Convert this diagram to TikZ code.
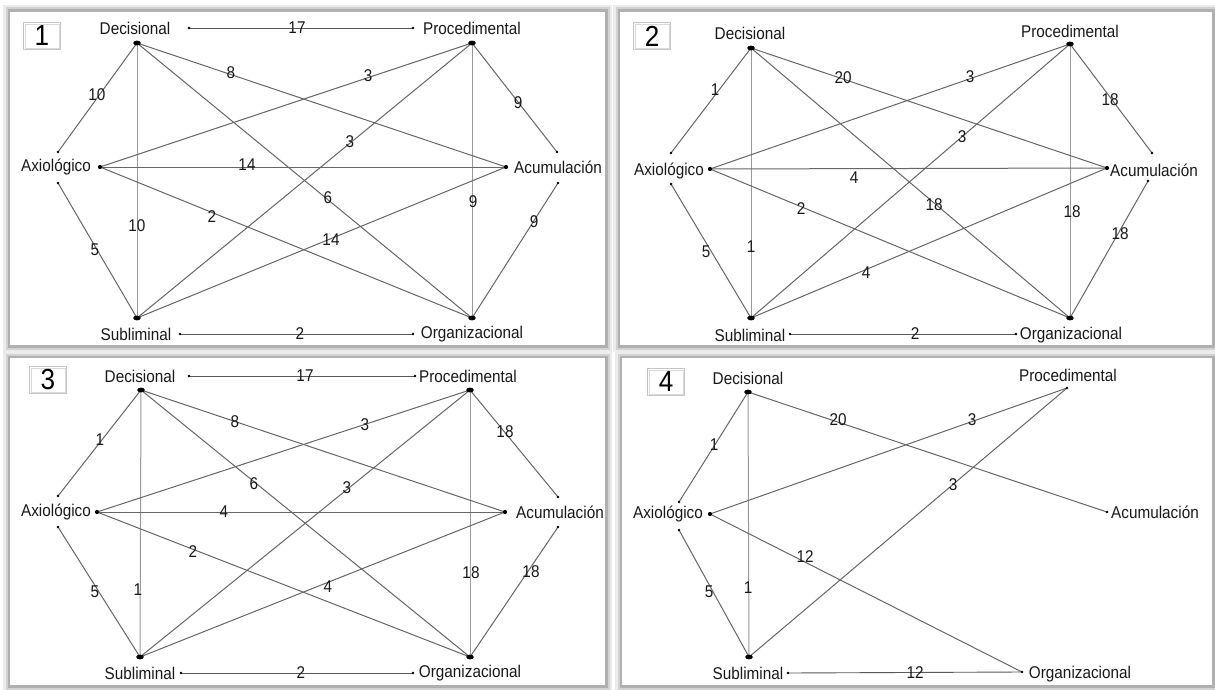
\documentclass[tikz,border=0pt]{standalone}
\usepackage{fontspec}
\setmainfont{Liberation Sans}[FakeStretch=0.9]
\begin{document}
\begin{tikzpicture}[x=1pt,y=-1pt,
  lbl/.style={font=\fontsize{17}{19}\selectfont, inner sep=0pt, text=black!90},
  num/.style={font=\fontsize{17}{19}\selectfont, inner sep=0pt, text=black!90},
  tie/.style={draw=black!60, line width=1pt},
  vtie/.style={draw=black!40, line width=1pt},
  htie/.style={draw=black!65, line width=0.9pt},
  boxnum/.style={draw=gray!45, line width=0.8pt, fill=white,
    minimum width=37pt, minimum height=27pt, inner sep=0pt,
    font=\fontsize{29}{30}\selectfont,
    append after command={\pgfextra{\let\bn\tikzlastnode}
      (\bn.south west) ++(2,-2) rectangle ([xshift=-2pt,yshift=-2pt]\bn.north east)}},
  blob/.style={fill=black},
]
\useasboundingbox (0,0) rectangle (1215,690);
\fill[white] (0,0) rectangle (1215,690);

% soft grey frames round the four panels
\newcommand\pnlframe[4]{%
  \fill[gray!15] (#1-7,#2-7) rectangle (#3+7,#4+7);
  \fill[gray!35] (#1-4.5,#2-4.5) rectangle (#3+4.5,#4+4.5);
  \fill[gray!62] (#1-2.5,#2-2.5) rectangle (#3+2.5,#4+2.5);
  \fill[white] (#1,#2) rectangle (#3,#4);}
\pnlframe{10}{12}{605}{345}
\pnlframe{620}{12}{1212}{345}
\pnlframe{10}{358}{605}{685}
\pnlframe{622}{358}{1212}{685}

% boxed panel numbers
\newcommand\pnlnum[4]{%
  \node[draw=gray!45, line width=0.8pt, fill=white, minimum width=37pt,
    minimum height=27pt, inner sep=0pt] (#1) at (#2,#3) {};
  \draw[gray!30, line width=0.6pt] ([xshift=2pt,yshift=2pt]#1.south west)
    rectangle ([xshift=-2pt,yshift=-2pt]#1.north east);
  \node[inner sep=0pt, font=\fontsize{29}{30}\selectfont] at (#1) {#4};}

% ---------------- panel 1 ----------------
\pnlnum{n1}{42}{36}{1}
\coordinate (D1) at (137,43);  \coordinate (P1) at (472,43);
\coordinate (A1) at (100,167); \coordinate (C1) at (506,167);
\coordinate (S1) at (137,318); \coordinate (O1) at (472,318);
\coordinate (a1u) at (58,152); \coordinate (a1d) at (58,183);
\coordinate (c1u) at (557,152); \coordinate (c1d) at (558,183);
\coordinate (d1h) at (189,28); \coordinate (p1h) at (413,28);
\coordinate (s1h) at (180,334); \coordinate (o1h) at (413,334);
\node[lbl] (t1d) at (135,28) {Decisional};
\node[lbl] (t1p) at (472,28) {Procedimental};
\node[lbl] (t1a) at (56,167) {Axiológico};
\node[lbl] (t1c) at (558,167) {Acumulación};
\node[lbl] (t1s) at (136,334) {Subliminal};
\node[lbl] (t1o) at (472,334) {Organizacional};
\draw[vtie] (D1) -- (S1);
\draw[vtie] (P1) -- (O1);
\draw[tie] (D1) -- (a1u);
\draw[tie] (S1) -- (a1d);
\draw[tie] (P1) -- (c1u);
\draw[tie] (O1) -- (c1d);
\draw[tie] (A1) -- (C1);
\draw[tie] (D1) -- (C1);
\draw[tie] (P1) -- (A1);
\draw[tie] (D1) -- (O1);
\draw[tie] (P1) -- (S1);
\draw[tie] (A1) -- (O1);
\draw[tie] (S1) -- (C1);
\draw[htie] (d1h) -- (p1h);
\draw[htie] (s1h) -- (o1h);
\foreach \p in {a1u,a1d,c1u,c1d,d1h,p1h,s1h,o1h} \fill (\p) circle (1.4);
\foreach \p in {A1,C1} \fill (\p) circle (2.1);
\foreach \p in {D1,P1,S1,O1} \fill[blob] (\p) ellipse (3.8 and 2.4);
\node[num] (l1a) at (97,95) {10};
\node[num] (l1b) at (95,250) {5};
\node[num] (l1c) at (518,103) {9};
\node[num] (l1d) at (534,222) {9};
\node[num] (l1e) at (137,226) {10};
\node[num] (l1f) at (473,202) {9};
\node[num] (l1g) at (247,165) {14};
\node[num] (l1h) at (231,73) {8};
\node[num] (l1i) at (368,76) {3};
\node[num] (l1j) at (328,198) {6};
\node[num] (l1k) at (350,142) {3};
\node[num] (l1l) at (212,217) {2};
\node[num] (l1m) at (331,240) {14};
\node[num] (l1n) at (297,28) {17};
\node[num] (l1o) at (300,334) {2};

% ---------------- panel 2 ----------------
\pnlnum{n2}{652}{36}{2}
\coordinate (D2) at (751,48);  \coordinate (P2) at (1070,44);
\coordinate (A2) at (710,169); \coordinate (C2) at (1107,168);
\coordinate (S2) at (751,318); \coordinate (O2) at (1070,318);
\coordinate (a2u) at (671,153); \coordinate (a2d) at (671,184);
\coordinate (c2u) at (1152,153); \coordinate (c2d) at (1148,181);
\coordinate (s2h) at (790,334); \coordinate (o2h) at (1016,334);
\node[lbl] (t2d) at (750,33) {Decisional};
\node[lbl] (t2p) at (1070,31) {Procedimental};
\node[lbl] (t2a) at (669,171) {Axiológico};
\node[lbl] (t2c) at (1154,170) {Acumulación};
\node[lbl] (t2s) at (750,335) {Subliminal};
\node[lbl] (t2o) at (1071,335) {Organizacional};
\draw[vtie] (D2) -- (S2);
\draw[vtie] (P2) -- (O2);
\draw[tie] (D2) -- (a2u);
\draw[tie] (S2) -- (a2d);
\draw[tie] (P2) -- (c2u);
\draw[tie] (O2) -- (c2d);
\draw[tie] (A2) -- (C2);
\draw[tie] (D2) -- (C2);
\draw[tie] (P2) -- (A2);
\draw[tie] (D2) -- (O2);
\draw[tie] (P2) -- (S2);
\draw[tie] (A2) -- (O2);
\draw[tie] (S2) -- (C2);
\draw[htie] (s2h) -- (o2h);
\foreach \p in {a2u,a2d,c2u,c2d,s2h,o2h} \fill (\p) circle (1.4);
\foreach \p in {A2,C2} \fill (\p) circle (2.1);
\foreach \p in {D2,P2,S2,O2} \fill[blob] (\p) ellipse (3.8 and 2.4);
\node[num] (l2a) at (715,90) {1};
\node[num] (l2b) at (706,252) {5};
\node[num] (l2c) at (1110,100) {18};
\node[num] (l2d) at (1120,234) {18};
\node[num] (l2e) at (751,247) {1};
\node[num] (l2f) at (1072,212) {18};
\node[num] (l2g) at (854,178) {4};
\node[num] (l2h) at (843,78) {20};
\node[num] (l2i) at (970,77) {3};
\node[num] (l2j) at (934,205) {18};
\node[num] (l2k) at (962,137) {3};
\node[num] (l2l) at (801,209) {2};
\node[num] (l2m) at (866,273) {4};
\node[num] (l2n) at (915,334) {2};

% ---------------- panel 3 ----------------
\pnlnum{n3}{48}{380}{3}
\coordinate (D3) at (141,390); \coordinate (P3) at (470,390);
\coordinate (A3) at (97,512);  \coordinate (C3) at (505,512);
\coordinate (S3) at (140,657); \coordinate (O3) at (470,657);
\coordinate (a3u) at (58,496); \coordinate (a3d) at (58,527);
\coordinate (c3u) at (558,497); \coordinate (c3d) at (558,527);
\coordinate (d3h) at (189,376); \coordinate (p3h) at (415,376);
\coordinate (s3h) at (181,673); \coordinate (o3h) at (413,673);
\node[lbl] (t3d) at (140,376) {Decisional};
\node[lbl] (t3p) at (468,376) {Procedimental};
\node[lbl] (t3a) at (56,512) {Axiológico};
\node[lbl] (t3c) at (560,512) {Acumulación};
\node[lbl] (t3s) at (140,673) {Subliminal};
\node[lbl] (t3o) at (470,673) {Organizacional};
\draw[vtie] (D3) -- (S3);
\draw[vtie] (P3) -- (O3);
\draw[tie] (D3) -- (a3u);
\draw[tie] (S3) -- (a3d);
\draw[tie] (P3) -- (c3u);
\draw[tie] (O3) -- (c3d);
\draw[tie] (A3) -- (C3);
\draw[tie] (D3) -- (C3);
\draw[tie] (P3) -- (A3);
\draw[tie] (D3) -- (O3);
\draw[tie] (P3) -- (S3);
\draw[tie] (A3) -- (O3);
\draw[tie] (S3) -- (C3);
\draw[htie] (d3h) -- (p3h);
\draw[htie] (s3h) -- (o3h);
\foreach \p in {a3u,a3d,c3u,c3d,d3h,p3h,s3h,o3h} \fill (\p) circle (1.4);
\foreach \p in {A3,C3} \fill (\p) circle (2.1);
\foreach \p in {D3,P3,S3,O3} \fill[blob] (\p) ellipse (3.8 and 2.4);
\node[num] (l3a) at (100,440) {1};
\node[num] (l3b) at (95,592) {5};
\node[num] (l3c) at (505,432) {18};
\node[num] (l3d) at (531,572) {18};
\node[num] (l3e) at (138,590) {1};
\node[num] (l3f) at (471,573) {18};
\node[num] (l3g) at (224,512) {4};
\node[num] (l3h) at (235,422) {8};
\node[num] (l3i) at (365,425) {3};
\node[num] (l3j) at (254,484) {6};
\node[num] (l3k) at (347,488) {3};
\node[num] (l3l) at (193,552) {2};
\node[num] (l3m) at (328,587) {4};
\node[num] (l3n) at (305,376) {17};
\node[num] (l3o) at (301,673) {2};

% ---------------- panel 4 ----------------
\pnlnum{n4}{666}{382}{4}
\coordinate (D4) at (748,392); \coordinate (P4) at (1067,388);
\coordinate (A4) at (710,514); \coordinate (C4) at (1107,512);
\coordinate (S4) at (749,657); \coordinate (O4) at (1022,672);
\coordinate (a4u) at (679,502); \coordinate (a4d) at (679,530);
\coordinate (s4h) at (788,673);
\node[lbl] (t4d) at (748,378) {Decisional};
\node[lbl] (t4p) at (1068,375) {Procedimental};
\node[lbl] (t4a) at (668,514) {Axiológico};
\node[lbl] (t4c) at (1155,512) {Acumulación};
\node[lbl] (t4s) at (748,673) {Subliminal};
\node[lbl] (t4o) at (1080,674) {Organizacional};
\draw[vtie] (D4) -- (S4);
\draw[tie] (D4) -- (a4u);
\draw[tie] (S4) -- (a4d);
\draw[tie] (D4) -- (C4);
\draw[tie] (P4) -- (A4);
\draw[tie] (S4) -- (P4);
\draw[tie] (A4) -- (O4);
\draw[htie] (s4h) -- (O4);
\foreach \p in {a4u,a4d,s4h,O4,C4,P4} \fill (\p) circle (1.4);
\fill (A4) circle (2.1);
\foreach \p in {D4,S4} \fill[blob] (\p) ellipse (3.8 and 2.4);
\node[num] (l4a) at (714,445) {1};
\node[num] (l4b) at (709,592) {5};
\node[num] (l4c) at (748,588) {1};
\node[num] (l4d) at (838,420) {20};
\node[num] (l4e) at (972,420) {3};
\node[num] (l4f) at (953,485) {3};
\node[num] (l4g) at (805,557) {12};
\node[num] (l4h) at (915,673) {12};
\end{tikzpicture}
\end{document}
